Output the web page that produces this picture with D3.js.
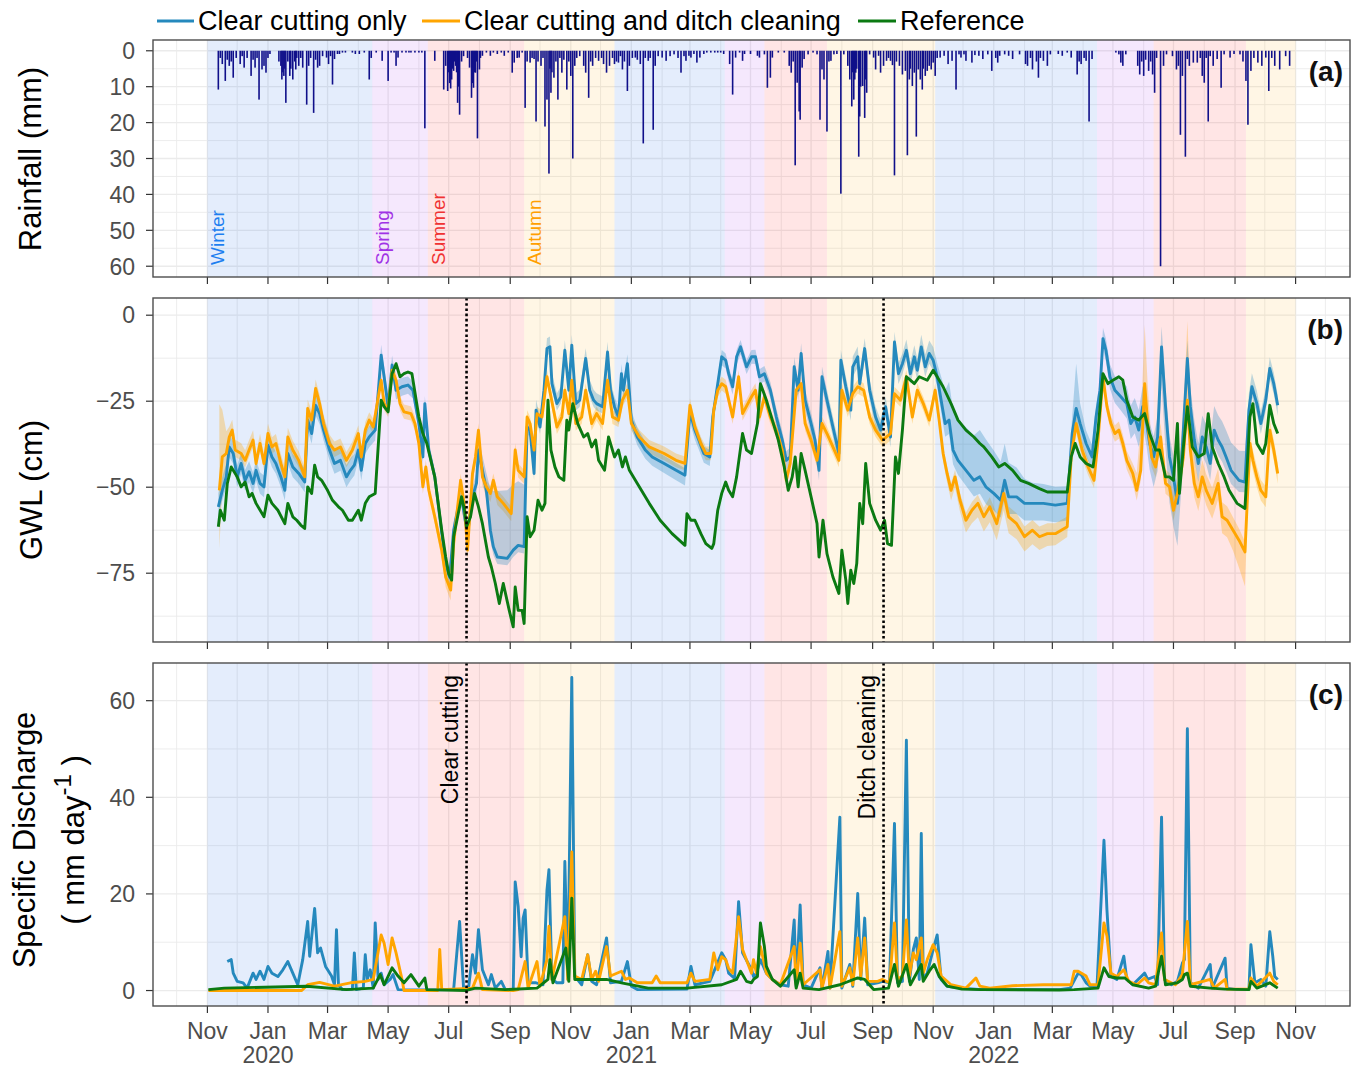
<!DOCTYPE html>
<html>
<head>
<meta charset="utf-8">
<script src="https://cdn.jsdelivr.net/npm/d3@7"></script>
<style>
  body { margin: 0; background: #ffffff; }
  svg { display: block; font-family: "Liberation Sans", Arial, Helvetica, sans-serif; }
</style>
</head>
<body>
<svg id="chart" width="1357" height="1067"></svg>
<script>
// ---------------------------------------------------------------------------
// Data: all series are [day offset from dayZero, value]
// ---------------------------------------------------------------------------
const dayZero = "2019-11-01";
const seriesNames = ["Clear cutting only", "Clear cutting and ditch cleaning", "Reference"];

const seasonNames  = ["Winter", "Spring", "Summer", "Autumn", "Winter", "Spring", "Summer", "Autumn", "Winter", "Spring", "Summer", "Autumn"];
const seasonStarts = ["2019-11-01", "2020-04-15", "2020-06-10", "2020-09-15", "2020-12-15", "2021-04-05",
                      "2021-05-15", "2021-07-17", "2021-11-03", "2022-04-15", "2022-06-11", "2022-09-12"];
const seasonEnd = "2022-11-01";

const eventNames = ["Clear cutting", "Ditch cleaning"];
const eventDates = ["2020-07-19", "2021-09-12"];

const rainTicks = [0, 10, 20, 30, 40, 50, 60];
const gwlTicks = [0, -25, -50, -75];
const dischargeTicks = [0, 20, 40, 60];

// Daily rainfall (mm)
const rainfall = [
  [11,10.8],[13,2],[15,3.7],[18,8.4],[20,2.5],[22,4.2],[24,3],[26,7.5],[29,2],[33,3.7],[35,1.5],[37,4.7],[40,2],
  [44,7],[46,2.5],[48,4.7],[50,2],[52,13.6],[55,5.2],[57,4.2],[59,6.1],[61,2],[63,0.9],[72,3],[74,4.2],[75,8],
  [76,6],[77,7],[78,5],[79,14.5],[81,3],[83,7],[84,5],[86,8],[88,3],[89,5.2],[90,2],[92,4.2],[94,2],[96,4.7],
  [100,15],[102,4.2],[104,2],[107,17.3],[109,2.5],[111,4.7],[113,4.2],[116,1.5],[120,1.9],[122,3.7],[124,1.5],
  [126,9.4],[128,2.3],[131,0.9],[133,0.9],[136,0.5],[139,0.5],[146,0.5],[149,0.9],[153,0.9],[158,0.5],[163,8],
  [165,2],[170,0.5],[176,2.8],[182,8.4],[185,0.5],[188,0.5],[190,4.2],[192,1.9],[196,0.5],[200,0.5],[203,0.5],
  [205,0.5],[209,0.5],[213,0.5],[216,0.5],[219,21.6],[229,2.8],[238,10.8],[240,4.2],[242,11.2],[243,6],[244,9],
  [245,10.5],[246,8],[247,5],[248,5.6],[249,3],[250,4.2],[251,6],[252,14.5],[253,10],[254,17.8],[256,3],[258,1.5],
  [262,2],[264,4.7],[266,13.1],[267,9],[268,10.3],[269,6],[270,6.1],[271,3],[272,24.4],[274,5.2],[275,2],[277,1.4],
  [281,0.5],[285,1.4],[288,0.5],[292,0.9],[296,0.5],[299,1.4],[303,0.5],[307,6.1],[309,3.3],[312,2],[314,1.9],
  [317,0.5],[320,15.9],[322,3],[325,3.3],[327,2],[329,2.3],[331,19.7],[333,3],[336,4.2],[338,2],[340,21.1],
  [342,13.6],[344,34.2],[345,5],[346,11.7],[347,6],[349,7.5],[351,3],[353,13.6],[355,2],[357,6.1],[359,2.5],
  [362,10.8],[364,3],[366,7],[368,30],[370,4.2],[372,2],[375,1.5],[379,4.2],[381,6.1],[384,13.1],[386,3],[388,4.2],
  [391,2],[394,2.8],[397,2],[399,3.7],[402,6.1],[405,4.2],[408,2],[410,3.7],[412,3],[414,3.3],[416,1.5],[418,5.2],
  [420,3],[423,11.2],[425,4.2],[428,2],[431,1.9],[433,2.5],[436,3.7],[439,25.8],[441,2],[444,2.8],[446,2],[449,22],
  [451,4.2],[454,1.5],[458,1.9],[462,2.8],[466,1.5],[470,1],[474,2],[477,6.1],[480,1.5],[482,2.8],[485,1.4],
  [487,1.9],[490,0.9],[493,3.3],[496,1.9],[500,0.9],[503,0.5],[507,0.5],[511,0.5],[514,0.5],[517,0.5],[520,0.9],
  [526,3.7],[529,12.2],[532,1.9],[536,0.5],[539,2.8],[541,0.9],[547,0.9],[554,1.4],[556,1.9],[561,1],[564,10.3],
  [567,7.5],[569,1.9],[575,0.5],[581,0.5],[586,4.2],[588,6.1],[590,3],[592,31.9],[594,8.9],[596,16.9],[597,19.2],
  [599,4.7],[601,2.3],[605,1],[610,0.5],[614,1],[617,19.2],[619,5.2],[621,8],[624,22.5],[626,3],[628,2.8],[631,1],
  [634,0.9],[638,39.8],[641,1],[645,4.2],[647,8],[649,15.5],[650,6],[651,13.6],[652,8],[653,6.1],[654,5],[656,29.5],
  [657,18.3],[658,10],[660,9.8],[662,18.7],[663,8],[664,11.7],[667,1],[671,1.9],[673,5.2],[676,1.4],[678,6.1],
  [681,4.2],[684,2.8],[686,2],[688,2.8],[690,4],[692,34.7],[694,3],[697,4.2],[700,6.6],[703,5.6],[705,29.1],[707,8],
  [708,5],[710,9.8],[712,6.1],[714,23.9],[716,5.2],[718,8],[720,10.8],[721,5],[723,7],[725,5.6],[727,4.2],[729,5.2],
  [731,3.3],[733,7],[735,2],[738,1.9],[742,1.4],[746,3.7],[750,2.8],[754,10.8],[757,1],[759,1.9],[762,1],[764,2.8],
  [770,3.3],[773,1.2],[777,1.4],[781,2.3],[786,1],[790,5.6],[794,2],[796,3.3],[798,1.4],[803,1],[807,1.4],[811,2.3],
  [818,1],[824,3.7],[826,4.2],[829,2],[831,5.2],[835,3],[837,7.5],[839,2],[842,2.8],[846,4.2],[849,1],[857,0.9],
  [861,1.4],[866,0.5],[870,1.9],[876,6.6],[878,3],[880,3.7],[883,2],[885,2.8],[888,19.7],[891,2.3],[915,0.5],
  [918,1],[920,3.3],[922,4.2],[925,1],[937,4.2],[939,6.6],[941,3],[943,7],[945,2.5],[948,5.6],[950,3],[952,6.6],
  [954,11.7],[956,2],[960,60],[963,4.2],[966,1],[972,1.5],[976,5.2],[978,4.2],[980,23.4],[982,7],[985,29.5],
  [987,2.3],[989,4.2],[993,3.3],[997,3.3],[1000,2],[1002,7],[1004,8.9],[1006,2],[1008,19.7],[1010,1.5],[1013,4.2],
  [1017,2.3],[1021,10.3],[1024,1],[1030,1.9],[1034,0.9],[1040,1],[1043,3],[1046,8.4],[1048,20.6],[1051,5.6],
  [1054,2],[1058,3.3],[1062,4.2],[1066,1.9],[1069,11.2],[1072,2],[1075,4.2],[1080,5.2],[1086,1.5],[1090,4.2]
];

// Groundwater level (cm), mean of wells
const gwlClear = [
  [11,-55.7],[15,-50.9],[19,-47],[22,-38.3],[26,-40.2],[30,-47],[34,-43.1],[38,-48],[42,-45.5],[46,-48.9],[49,-45.1],
  [53,-48.9],[57,-49.9],[61,-37.8],[65,-41.2],[69,-43.1],[74,-47],[78,-50.9],[81,-40.2],[86,-44.1],[92,-46],[98,-48.5],
  [101,-30.5],[105,-34.4],[109,-26.2],[113,-28.6],[117,-33.4],[123,-39.2],[128,-43.1],[134,-42.2],[140,-47],[144,-45.1],
  [148,-43.6],[152,-39.2],[155,-45.1],[159,-37.3],[163,-35.4],[169,-33.4],[175,-11.6],[178,-17.9],[182,-26.6],
  [186,-14.5],[190,-21.8],[196,-20.8],[202,-20.3],[207,-21.8],[213,-31.5],[217,-41.2],[219,-25.7],[223,-39.2],
  [229,-47],[234,-58.6],[240,-72.2],[244,-76.1],[248,-62.5],[252,-56.7],[256,-52.8],[259,-58.6],[262,-63.5],
  [267,-52.8],[271,-48.9],[273,-39.2],[277,-45.1],[281,-50.9],[285,-62.5],[288,-67.3],[292,-70.3],[302,-70.7],
  [308,-68.3],[313,-66.9],[319,-67.3],[322,-32.5],[325,-33.4],[329,-46],[331,-27.6],[335,-32.5],[339,-21.8],
  [342,-9.7],[345,-9.2],[347,-19.9],[352,-25.7],[356,-23.7],[360,-10.2],[364,-21.8],[367,-8.7],[371,-25.7],
  [375,-24.7],[381,-12.6],[385,-21.8],[389,-24.7],[392,-25.7],[398,-26.6],[403,-10.7],[406,-21.8],[410,-26.6],
  [414,-29.6],[417,-17],[419,-21.8],[423,-14.1],[427,-30.5],[433,-35.4],[441,-39.2],[448,-41.2],[460,-43.1],
  [472,-45.1],[481,-46.5],[486,-28.1],[491,-33.4],[495,-36.3],[500,-40.2],[506,-41.2],[509,-29.6],[514,-19.9],
  [518,-12.1],[522,-13.1],[525,-17],[529,-20.8],[533,-12.1],[537,-9.2],[543,-15],[548,-12.1],
  [552,-12.1],[556,-17.9],[561,-17],[567,-21.8],[573,-29.6],[579,-36.3],[583,-42.2],[587,-41.2],[591,-15],
  [595,-21.8],[598,-11.1],[602,-24.7],[608,-31.5],[612,-36.3],[616,-45.1],[619,-17.9],[624,-24.7],[630,-32.5],
  [636,-40.2],[638,-13.1],[643,-20.8],[648,-27.6],[650,-15],[655,-12.1],[657,-19.9],[662,-9.7],[667,-21.8],
  [673,-29.6],[678,-33.4],[683,-26.6],[688,-35.4],[692,-7.8],[696,-17],[700,-14.1],[704,-10.2],[708,-17],
  [712,-12.1],[715,-16],[719,-9.2],[723,-15],[727,-11.1],[731,-13.1],[735,-17.9],[739,-24.7],[743,-31.5],
  [747,-30.5],[751,-39.2],[756,-42.2],[764,-45.1],[772,-48],[778,-47],[784,-49.9],[792,-51.8],[799,-53.8],
  [803,-48],[807,-52.8],[815,-52.8],[823,-54.7],[831,-54.7],[842,-54.7],[854,-55.2],[866,-54.7],[871,-34.4],
  [875,-27.1],[879,-31.5],[885,-37.3],[891,-41.2],[895,-29.6],[899,-21.8],[902,-6.8],[905,-10.2],[909,-17.9],
  [914,-21.8],[920,-23.7],[926,-25.7],[930,-31.5],[934,-29.6],[938,-33.4],[942,-26.6],[946,-31.5],[949,-37.3],
  [953,-41.2],[957,-35.4],[961,-9.2],[965,-26.6],[969,-41.2],[973,-47],[977,-54.7],[981,-43.1],[987,-12.6],
  [990,-26.6],[994,-36.3],[998,-43.1],[1002,-35.4],[1006,-38.3],[1010,-43.1],[1014,-33.4],[1018,-36.3],
  [1022,-38.3],[1026,-41.2],[1031,-45.1],[1039,-48],[1045,-48.5],[1049,-27.6],[1052,-20.8],[1057,-25.7],
  [1061,-31.5],[1066,-24.7],[1070,-15.5],[1074,-19.9],[1078,-26.2]
];

const gwlDitch = [
  [12,-50.9],[15,-41.2],[19,-40.2],[22,-35.4],[25,-33.4],[28,-39.2],[34,-40.2],[38,-42.2],[42,-39.2],[46,-36.3],
  [49,-43.1],[53,-37.3],[57,-43.1],[61,-34.4],[65,-38.3],[69,-37.3],[74,-43.1],[78,-47],[81,-35.4],[86,-39.2],
  [92,-42.2],[98,-47],[101,-27.1],[105,-30.5],[109,-21.3],[113,-25.7],[117,-31.5],[123,-37.3],[128,-39.2],
  [134,-38.3],[140,-42.2],[146,-39.2],[152,-34.4],[155,-41.2],[159,-33.4],[163,-30.5],[167,-32.5],[175,-18.9],
  [178,-25.7],[182,-27.6],[186,-16],[190,-18.9],[194,-25.7],[198,-28.1],[205,-28.6],[209,-31.5],[213,-37.3],
  [217,-49.9],[220,-44.1],[223,-50.9],[229,-58.6],[236,-68.3],[240,-76.1],[245,-79.9],[248,-66.4],[252,-55.7],
  [255,-48],[259,-55.7],[262,-68.3],[267,-46],[270,-41.2],[273,-33.4],[277,-47],[281,-49.9],[285,-51.8],[288,-48],
  [292,-52.8],[298,-54.7],[306,-57.7],[310,-39.2],[313,-45.1],[319,-47],[322,-29.6],[325,-31.5],[329,-39.2],
  [332,-28.6],[337,-29.6],[342,-17.9],[346,-23.7],[352,-32.5],[357,-29.6],[360,-21.8],[364,-28.6],[367,-18.9],
  [371,-31.5],[377,-29.6],[381,-21.8],[387,-31.5],[392,-28.6],[398,-31.5],[403,-18.9],[408,-29.6],[414,-30.5],
  [418,-24.7],[423,-21.8],[427,-31.5],[435,-35.4],[445,-38.3],[460,-40.2],[472,-42.2],[481,-43.1],[486,-26.2],
  [491,-32.5],[497,-37.3],[502,-40.2],[507,-40.2],[510,-27.6],[514,-21.8],[518,-19.9],[522,-20.8],[529,-29.6],
  [535,-17.9],[539,-28.6],[548,-23.7],
  [552,-21.8],[556,-29.6],[561,-23.7],[567,-29.6],[573,-33.4],[579,-39.2],[583,-48],[587,-43.1],[593,-21.8],
  [598,-19.9],[602,-31.5],[608,-36.3],[614,-42.2],[619,-31.5],[624,-34.4],[630,-38.3],[636,-42.2],[639,-21.8],
  [645,-27.6],[650,-22.8],[655,-20.8],[661,-21.8],[667,-29.6],[673,-33.4],[680,-36.3],[688,-34.4],[692,-22.8],
  [698,-24.7],[704,-17.9],[710,-29.6],[715,-21.8],[721,-25.7],[727,-30.5],[733,-21.8],[737,-30.5],[741,-40.2],
  [745,-46],[749,-50.9],[753,-47],[758,-53.8],[764,-59.6],[770,-56.7],[776,-54.7],[782,-58.6],[788,-55.7],
  [795,-60.6],[802,-51.8],[807,-58.6],[815,-60.6],[823,-64.4],[831,-62.5],[838,-64.4],[846,-63.5],[854,-63.5],
  [866,-61.5],[870,-41.2],[875,-31.5],[881,-39.2],[887,-44.1],[893,-48],[897,-36.3],[902,-17.9],[906,-26.6],
  [910,-31.5],[914,-34.4],[918,-33.4],[922,-37.3],[926,-42.2],[932,-46],[936,-50.9],[940,-45.1],[944,-19.9],
  [947,-31.5],[951,-41.2],[955,-44.1],[960,-35.4],[965,-48.9],[969,-49.9],[973,-56.7],[977,-51.8],[983,-41.2],
  [987,-24.7],[990,-39.2],[994,-48.9],[998,-52.8],[1002,-47],[1006,-50.9],[1012,-54.7],[1018,-48.9],[1022,-58.6],
  [1027,-59.6],[1033,-62.5],[1039,-65.4],[1045,-68.8],[1050,-37.3],[1053,-42.2],[1057,-47],[1061,-50.9],
  [1066,-52.8],[1070,-33.4],[1074,-39.2],[1078,-46]
];

const gwlRef = [
  [11,-61.5],[13,-56.7],[17,-59.6],[20,-49],[24,-44.1],[30,-47],[34,-49.9],[38,-48.5],[42,-52.8],[45,-51.8],
  [49,-54.7],[57,-58.6],[61,-52.3],[65,-54.7],[71,-56.7],[78,-60.6],[81,-54.7],[86,-58.6],[90,-59.6],[94,-61],
  [98,-62],[101,-49.9],[105,-51.8],[108,-43.6],[111,-47],[115,-48],[121,-50.9],[126,-53.8],[132,-55.7],[136,-56.7],
  [142,-59.6],[146,-59.6],[152,-56.7],[155,-59.6],[159,-54.7],[163,-52.8],[169,-51.8],[175,-24.7],[178,-26.6],
  [182,-28.1],[186,-17],[190,-14.1],[194,-17.9],[198,-17],[202,-16.5],[206,-17],[213,-29.6],[217,-34.4],[221,-37.3],
  [229,-47],[236,-62.5],[240,-70.3],[243,-75.1],[246,-77],[248,-64.4],[252,-58.6],[256,-52.8],[259,-56.7],
  [261,-61.5],[265,-58.6],[269,-51.8],[273,-55.7],[277,-60.6],[283,-70.3],[286,-73.2],[290,-78],[294,-83.8],
  [298,-78],[304,-85.8],[308,-90.6],[310,-79],[313,-85.8],[317,-85.8],[319,-89.6],[322,-58.6],[325,-64.4],
  [329,-62.5],[333,-53.8],[337,-56.7],[340,-54.7],[343,-24.7],[346,-39.2],[350,-44.1],[354,-47],[359,-48],
  [362,-30.5],[364,-33.4],[368,-25.7],[373,-31.5],[379,-35.4],[383,-34.4],[387,-38.3],[391,-36.3],[394,-42.2],
  [400,-45.1],[404,-35.4],[410,-41.2],[414,-39.2],[418,-44.1],[421,-41.2],[425,-45.1],[433,-48.9],[445,-54.7],
  [456,-59.6],[468,-63.5],[481,-66.9],[483,-57.7],[487,-59.6],[491,-59.6],[497,-63.5],[502,-66.4],[508,-67.8],
  [510,-66.4],[514,-56.7],[518,-51.8],[522,-48.5],[525,-50.9],[529,-52.8],[533,-47],[539,-34.4],[543,-39.2],
  [548,-40.2],[550,-37.3],[554,-31.5],[557,-19.9],[563,-24.7],[569,-30.5],[575,-36.3],[581,-44.1],[585,-50.9],
  [589,-47],[592,-41.2],[595,-49.9],[598,-40.2],[602,-45.1],[608,-52.8],[614,-60.6],[616,-70.3],[620,-59.6],
  [624,-69.3],[630,-76.1],[636,-80.9],[639,-68.3],[643,-77],[645,-83.8],[648,-74.1],[651,-78],[654,-72.2],
  [657,-54.7],[660,-60.6],[663,-43.1],[667,-54.7],[673,-59.6],[678,-62.5],[682,-59.6],[685,-66.4],[689,-66.9],
  [693,-41.2],[696,-46],[700,-33.4],[704,-17.9],[708,-18.9],[712,-19.9],[717,-17.9],[725,-18.9],[731,-16],
  [735,-17.9],[741,-20.8],[749,-25.7],[756,-30.5],[764,-33.4],[772,-35.4],[778,-37.3],[782,-38.3],[790,-41.2],
  [797,-44.1],[803,-43.1],[811,-45.1],[819,-48],[827,-48.9],[838,-50.4],[846,-51.4],[866,-51.4],[870,-41.2],
  [874,-37.3],[879,-41.2],[885,-43.1],[892,-44.1],[897,-33.4],[902,-17],[907,-19.9],[912,-18.9],[918,-17.9],
  [922,-18.9],[926,-24.7],[932,-29.6],[938,-30.5],[944,-28.6],[949,-34.4],[955,-39.2],[959,-39.2],[965,-47],
  [969,-47],[973,-48],[977,-31.5],[979,-51.8],[983,-38.3],[987,-26.6],[992,-38.3],[998,-41.2],[1004,-40.2],
  [1008,-28.6],[1012,-38.3],[1018,-43.1],[1024,-47],[1029,-50.9],[1037,-54.7],[1045,-56.2],[1050,-29.6],
  [1053,-25.7],[1057,-37.3],[1063,-40.2],[1066,-37.3],[1070,-26.2],[1074,-31.5],[1078,-34.4]
];

// Spread between wells around each mean: [day, below (cm), above (cm)]
const spreadClear = [
  [11,3,4],[40,3,3],[100,3,4],[175,3,3],[230,2,2],[270,3,3],[281,3,5],[285,3,12],[290,2,19],[300,2,20],[319,2,18],
  [322,2,3],[400,2,3],[480,3,2],[548,2,2],[600,3,3],[700,3,3],[735,3,4],[745,4,11],[783,5,14],[830,5,6],[866,5,5],
  [871,4,5],[875,4,13],[880,4,4],[900,3,3],[940,5,6],[975,15,6],[982,6,5],[1030,4,8],[1045,3,9],[1050,3,4],[1078,3,3]
];
const spreadDitch = [
  [12,17,25],[16,6,10],[22,2,3],[230,2,2],[240,3,2],[250,3,2],[320,2,2],[548,2,2],[735,2,2],[750,3,2],[800,5,3],
  [866,3,3],[900,2,2],[935,3,3],[943,3,19],[951,3,4],[980,3,4],[987,4,23],[995,4,5],[1030,5,4],[1045,10,3],
  [1050,3,3],[1078,3,3]
];

// Specific discharge (mm day-1)
const qClear = [
  [20,6.0],[24,6.4],[26,3.6],[30,1.9],[36,1.6],[40,0.5],[46,3.6],[49,2.3],[53,4.0],[57,2.3],[61,5.0],[65,3.6],
  [71,2.9],[76,4.3],[81,6.0],[86,3.6],[91,1.2],[96,6.4],[101,14.3],[103,7.1],[108,17.0],[111,7.8],[114,8.8],
  [119,5.0],[125,3.0],[128,1.2],[130,12.6],[132,1.2],[136,0.2],[146,0.3],[148,7.8],[150,0.2],[157,0.5],[159,7.4],
  [161,2.3],[164,4.3],[167,0.5],[169,14.0],[172,2.3],[175,3.6],[178,1.2],[184,2.3],[187,3.3],[192,0.2],[213,0.1],
  [248,0.2],[254,14.3],[258,0.5],[263,0.5],[267,7.4],[270,3.6],[273,12.6],[277,4.3],[283,1.2],[286,3.3],[290,0.5],
  [296,1.9],[300,0.2],[308,0.2],[310,22.5],[313,17.4],[316,7.0],[318,15.0],[320,16.7],[323,1.6],[331,1.6],
  [338,1.2],[342,20.8],[344,25.0],[347,2.3],[352,1.6],[358,1.6],[360,26.7],[363,2.3],[367,64.8],[370,3.0],
  [377,1.2],[383,7.4],[387,1.9],[392,1.2],[402,10.9],[406,1.6],[417,1.9],[423,6.0],[427,0.9],[433,0.2],[483,0.3],
  [487,5.0],[491,1.2],[506,1.9],[518,7.8],[522,6.4],[525,3.6],[531,2.5],[535,18.4],[539,7.8],[548,4.3],
  [550,2.9],[553,3.6],[557,6.4],[563,3.6],[569,2.3],[577,1.2],[585,0.9],[591,14.6],[593,0.9],[597,17.7],[600,1.2],
  [608,0.5],[617,4.7],[619,0.5],[625,8.1],[627,0.5],[637,35.9],[639,0.5],[647,5.4],[650,0.9],[655,20.1],[658,2.3],
  [662,15.0],[665,1.2],[675,1.6],[680,1.9],[687,1.6],[692,34.6],[695,1.6],[700,1.9],[704,51.8],[707,1.9],
  [711,8.5],[714,10.9],[717,2.3],[719,32.5],[721,2.3],[725,3.6],[731,8.5],[735,11.5],[739,2.3],[745,0.9],
  [760,0.5],[780,0.2],[858,0.2],[869,0.5],[877,3.6],[880,3.3],[885,1.6],[889,0.9],[896,0.9],[903,31.1],
  [906,16.7],[910,2.9],[916,2.3],[923,7.1],[926,2.3],[932,1.2],[944,3.6],[947,2.3],[954,2.9],[957,1.2],
  [961,35.9],[964,2.3],[971,1.2],[977,1.9],[982,5.7],[984,6.4],[987,54.2],[990,1.6],[998,0.5],[1010,5.4],
  [1012,0.5],[1025,6.7],[1027,0.5],[1037,0.2],[1049,0.2],[1051,9.5],[1055,1.6],[1061,2.3],[1066,0.9],
  [1070,12.2],[1073,7.1],[1075,2.9],[1078,2.3]
];

const qDitch = [
  [1,0],[95,0],[101,1.2],[113,1.7],[128,0.9],[144,1.6],[159,1.9],[167,2.3],[175,11.5],[178,9.8],[182,5.4],
  [186,10.9],[190,7.8],[196,2.3],[198,0],[232,0],[234,8.5],[236,0.2],[267,0.5],[273,3.6],[277,0.2],[308,0],
  [313,0.2],[320,6.0],[323,0.5],[332,6.0],[335,0.9],[342,6.4],[344,13.3],[347,2.3],[360,15.3],[363,2.3],
  [367,28.7],[370,3.0],[377,2.3],[383,7.4],[387,2.3],[391,4.0],[394,1.9],[402,9.1],[406,3.0],[417,4.0],
  [421,2.3],[425,2.6],[433,1.6],[448,1.6],[452,3.0],[456,1.6],[483,1.6],[487,3.6],[491,1.9],[506,2.3],
  [510,7.8],[514,4.3],[518,7.0],[522,6.4],[525,4.6],[529,3.6],[535,15.3],[539,8.5],[548,3.6],
  [550,6.4],[553,3.6],[557,9.1],[563,3.6],[569,2.3],[577,1.2],[591,9.1],[593,1.2],[597,9.8],[600,1.2],[617,4.3],
  [619,0.5],[625,5.4],[627,0.5],[637,12.2],[639,0.9],[647,4.7],[650,1.2],[655,10.9],[658,3.0],[662,10.9],
  [665,1.9],[675,1.9],[680,2.3],[687,1.6],[692,14.0],[695,2.3],[700,3.0],[704,14.6],[707,3.0],[711,7.8],
  [714,6.4],[719,10.9],[721,3.6],[725,6.4],[731,9.5],[735,7.8],[739,3.0],[749,1.2],[764,0.5],[774,2.6],
  [778,0.9],[788,0.5],[811,1.0],[842,1.2],[870,1.2],[873,4.0],[877,4.0],[885,3.0],[889,1.2],[897,1.2],
  [903,14.0],[906,11.3],[910,3.6],[916,2.9],[923,4.3],[928,1.9],[936,1.2],[944,2.6],[948,1.6],[955,1.2],
  [961,11.9],[964,2.3],[975,1.2],[982,3.3],[987,14.3],[990,1.2],[1010,2.3],[1014,0.5],[1025,2.3],[1027,0.3],
  [1049,0.3],[1051,2.6],[1057,0.9],[1070,3.6],[1074,1.9],[1078,1.2]
];

const qRef = [
  [1,0.2],[17,0.5],[100,0.9],[140,0.2],[167,0.5],[174,3.3],[178,1.2],[186,4.7],[192,3.0],[198,1.6],[205,3.3],
  [213,0.9],[219,2.6],[221,0.2],[260,0],[270,0.5],[300,0.2],[332,0.5],[343,2.3],[345,6.4],[348,1.6],[361,8.8],
  [364,1.9],[367,19.1],[370,2.3],[383,2.3],[402,2.3],[417,1.6],[444,0.5],[483,0.5],[518,1.2],[533,2.3],[537,4.0],
  [543,1.9],[548,1.6],[550,2.3],[554,2.9],[557,14.0],[561,9.1],[563,5.0],[569,2.3],[577,0.9],[591,4.3],[593,0.5],
  [597,3.6],[600,0.5],[616,0.2],[637,1.2],[655,2.6],[662,2.3],[671,0.2],[686,0.5],[692,5.4],[696,0.9],[704,5.4],
  [708,1.2],[719,5.4],[721,1.9],[727,4.0],[732,5.4],[737,2.9],[745,0.9],[760,0.3],[780,0.2],[858,0.1],[873,0.2],
  [897,0.5],[903,4.7],[908,2.9],[916,2.6],[924,2.6],[932,1.2],[948,0.5],[955,0.9],[961,7.1],[965,1.2],[977,1.6],
  [982,2.3],[984,3.3],[987,3.6],[990,0.9],[1010,0.5],[1025,0.3],[1049,0.2],[1051,1.9],[1057,0.5],[1070,1.6],
  [1078,0.5]
];

// ---------------------------------------------------------------------------
// Styling
// ---------------------------------------------------------------------------
const lineColors = ["#2589bd", "#ffa500", "#0b7a12"];
const seasonFill = { Winter: "#1e6ee6", Spring: "#a020f0", Summer: "#ff0000", Autumn: "#ffa500" };
const seasonFillOpacity = { Winter: 0.12, Spring: 0.1, Summer: 0.1, Autumn: 0.1 };
const seasonText = { Winter: "#1e7ff0", Spring: "#a032e6", Summer: "#f03232", Autumn: "#ffa000" };
const rainColor = "#10108a";
const gridColor = "#ebebeb";
const axisText = "#4d4d4d";

// ---------------------------------------------------------------------------
// Scales
// ---------------------------------------------------------------------------
const svg = d3.select("#chart");
const t0 = new Date(dayZero + "T00:00:00Z");
const toDate = d => new Date(t0.getTime() + d * 864e5);
const parse = s => new Date(s + "T00:00:00Z");

const X0 = 153, X1 = 1350;
const x = d3.scaleUtc().domain([toDate(-54.8), toDate(1150.8)]).range([X0, X1]);

const panels = {
  a: { top: 40,  bottom: 277,  y: d3.scaleLinear().domain([-3, 63]).range([40, 277]),
       ticks: rainTicks, minor: [5, 15, 25, 35, 45, 55] },
  b: { top: 298, bottom: 642,  y: d3.scaleLinear().domain([-95, 5]).range([642, 298]),
       ticks: gwlTicks, minor: [-12.5, -37.5, -62.5, -87.5] },
  c: { top: 663, bottom: 1006, y: d3.scaleLinear().domain([-3.2, 67.8]).range([1006, 663]),
       ticks: dischargeTicks, minor: [10, 30, 50] }
};

const majorMonths = d3.utcMonth.every(2).range(x.domain()[0], x.domain()[1]);
const minorMonths = d3.utcMonth.range(x.domain()[0], x.domain()[1]).filter(d => d.getUTCMonth() % 2 === 1);
const fmtNum = v => (v < 0 ? "\u2212" + Math.abs(v) : String(v));

// ---------------------------------------------------------------------------
// Panel frames, grid, seasons, axes
// ---------------------------------------------------------------------------
const defs = svg.append("defs");
Object.entries(panels).forEach(([k, p]) => {
  defs.append("clipPath").attr("id", "clip-" + k)
    .append("rect").attr("x", X0).attr("y", p.top).attr("width", X1 - X0).attr("height", p.bottom - p.top);

  const g = svg.append("g").attr("class", "panel-" + k);
  p.g = g;
  g.append("rect").attr("x", X0).attr("y", p.top).attr("width", X1 - X0).attr("height", p.bottom - p.top)
    .attr("fill", "#ffffff");

  const grid = g.append("g").attr("clip-path", `url(#clip-${k})`);
  grid.selectAll(".vmin").data(minorMonths).join("line")
    .attr("x1", d => x(d)).attr("x2", d => x(d)).attr("y1", p.top).attr("y2", p.bottom)
    .attr("stroke", gridColor).attr("stroke-width", 0.9);
  grid.selectAll(".vmaj").data(majorMonths).join("line")
    .attr("x1", d => x(d)).attr("x2", d => x(d)).attr("y1", p.top).attr("y2", p.bottom)
    .attr("stroke", gridColor).attr("stroke-width", 1.3);
  grid.selectAll(".hmin").data(p.minor).join("line")
    .attr("x1", X0).attr("x2", X1).attr("y1", d => p.y(d)).attr("y2", d => p.y(d))
    .attr("stroke", gridColor).attr("stroke-width", 0.9);
  grid.selectAll(".hmaj").data(p.ticks).join("line")
    .attr("x1", X0).attr("x2", X1).attr("y1", d => p.y(d)).attr("y2", d => p.y(d))
    .attr("stroke", gridColor).attr("stroke-width", 1.3);

  // season shading
  const seasons = seasonNames.map((name, i) => ({
    name, start: parse(seasonStarts[i]), end: parse(i + 1 < seasonStarts.length ? seasonStarts[i + 1] : seasonEnd)
  }));
  p.seasons = seasons;
  g.append("g").selectAll("rect").data(seasons).join("rect")
    .attr("x", d => x(d.start)).attr("width", d => x(d.end) - x(d.start))
    .attr("y", p.top).attr("height", p.bottom - p.top)
    .attr("fill", d => seasonFill[d.name]).attr("fill-opacity", d => seasonFillOpacity[d.name]);

  p.data = g.append("g").attr("clip-path", `url(#clip-${k})`);

  // y axis ticks and labels
  const ya = svg.append("g");
  ya.selectAll("line").data(p.ticks).join("line")
    .attr("x1", X0 - 7).attr("x2", X0).attr("y1", d => p.y(d)).attr("y2", d => p.y(d))
    .attr("stroke", "#333").attr("stroke-width", 1.2);
  ya.selectAll("text").data(p.ticks).join("text")
    .attr("x", X0 - 18).attr("y", d => p.y(d)).attr("dy", "0.36em")
    .attr("text-anchor", "end").attr("font-size", 23).attr("fill", axisText)
    .text(d => fmtNum(d));

  // x axis ticks (labels only on the bottom panel)
  const xa = svg.append("g");
  xa.selectAll("line").data(majorMonths).join("line")
    .attr("x1", d => x(d)).attr("x2", d => x(d)).attr("y1", p.bottom).attr("y2", p.bottom + 7)
    .attr("stroke", "#333").attr("stroke-width", 1.2);
});

// ---------------------------------------------------------------------------
// (a) Rainfall bars hanging from the top
// ---------------------------------------------------------------------------
{
  const p = panels.a;
  p.data.selectAll("rect").data(rainfall).join("rect")
    .attr("x", d => x(toDate(d[0])) - 0.8).attr("width", 1.6)
    .attr("y", p.y(0)).attr("height", d => p.y(d[1]) - p.y(0))
    .attr("fill", rainColor);

  svg.append("g").selectAll("text").data(p.seasons.slice(0, 4)).join("text")
    .attr("transform", d => `translate(${x(d.start) + 17},265) rotate(-90)`)
    .attr("font-size", 19).attr("fill", d => seasonText[d.name])
    .text(d => d.name);
}

// ---------------------------------------------------------------------------
// (b) Groundwater level with between-well spread
// ---------------------------------------------------------------------------
function withBand(points, spread) {
  const days = spread.map(s => s[0]);
  const below = d3.scaleLinear().domain(days).range(spread.map(s => s[1])).clamp(true);
  const above = d3.scaleLinear().domain(days).range(spread.map(s => s[2])).clamp(true);
  return points.map(([d, v]) => ({ d, v, lo: v - below(d), hi: v + above(d) }));
}
{
  const p = panels.b;
  const bands = [withBand(gwlDitch, spreadDitch), withBand(gwlClear, spreadClear)];
  const bandColors = [lineColors[1], lineColors[0]];
  const area = d3.area().x(d => x(toDate(d.d))).y0(d => p.y(d.lo)).y1(d => p.y(d.hi));
  bands.forEach((b, i) => {
    p.data.append("path").datum(b).attr("d", area)
      .attr("fill", bandColors[i]).attr("fill-opacity", 0.3);
  });
  const line = d3.line().x(d => x(toDate(d[0]))).y(d => p.y(d[1]));
  [gwlClear, gwlDitch, gwlRef].forEach((s, i) => {
    p.data.append("path").datum(s).attr("d", line)
      .attr("fill", "none").attr("stroke", lineColors[i]).attr("stroke-width", 2.9)
      .attr("stroke-linejoin", "round");
  });
}

// ---------------------------------------------------------------------------
// (c) Specific discharge
// ---------------------------------------------------------------------------
{
  const p = panels.c;
  const line = d3.line().x(d => x(toDate(d[0]))).y(d => p.y(d[1]));
  [qClear, qDitch, qRef].forEach((s, i) => {
    p.data.append("path").datum(s).attr("d", line)
      .attr("fill", "none").attr("stroke", lineColors[i]).attr("stroke-width", 2.9)
      .attr("stroke-linejoin", "round");
  });
}

// ---------------------------------------------------------------------------
// Management events (dotted lines in b and c, labels in c)
// ---------------------------------------------------------------------------
["b", "c"].forEach(k => {
  const p = panels[k];
  svg.append("g").selectAll("line").data(eventDates).join("line")
    .attr("x1", d => x(parse(d))).attr("x2", d => x(parse(d)))
    .attr("y1", p.top).attr("y2", p.bottom)
    .attr("stroke", "#000").attr("stroke-width", 2.6).attr("stroke-dasharray", "2.6,2.6");
});
svg.append("g").selectAll("text").data(eventNames).join("text")
  .attr("transform", (d, i) => `translate(${x(parse(eventDates[i])) - 9},675) rotate(-90)`)
  .attr("text-anchor", "end").attr("font-size", 23).attr("fill", "#000")
  .text(d => d);

// ---------------------------------------------------------------------------
// Panel borders and letters
// ---------------------------------------------------------------------------
Object.entries(panels).forEach(([k, p]) => {
  svg.append("rect").attr("x", X0).attr("y", p.top).attr("width", X1 - X0).attr("height", p.bottom - p.top)
    .attr("fill", "none").attr("stroke", "#4d4d4d").attr("stroke-width", 1.4);
  svg.append("text").attr("x", 1343).attr("y", p.top + 41)
    .attr("text-anchor", "end").attr("font-size", 28).attr("font-weight", "bold").attr("fill", "#111")
    .text(`(${k})`);
});

// ---------------------------------------------------------------------------
// Bottom date axis labels
// ---------------------------------------------------------------------------
{
  const p = panels.c;
  const labs = majorMonths.filter(d => d >= parse("2019-11-01") && d <= parse("2022-11-01"));
  const g = svg.append("g").attr("font-size", 23).attr("fill", axisText).attr("text-anchor", "middle");
  g.selectAll(".m").data(labs).join("text")
    .attr("x", d => x(d)).attr("y", p.bottom + 33).text(d => d3.utcFormat("%b")(d));
  g.selectAll(".yr").data(labs.filter(d => d.getUTCMonth() === 0)).join("text")
    .attr("x", d => x(d)).attr("y", p.bottom + 57).text(d => d3.utcFormat("%Y")(d));
}

// ---------------------------------------------------------------------------
// Axis titles
// ---------------------------------------------------------------------------
svg.append("text").attr("transform", "translate(41,159) rotate(-90)")
  .attr("text-anchor", "middle").attr("font-size", 31).attr("fill", "#000").text("Rainfall (mm)");
svg.append("text").attr("transform", "translate(42,490) rotate(-90)")
  .attr("text-anchor", "middle").attr("font-size", 31).attr("fill", "#000").text("GWL (cm)");
svg.append("text").attr("transform", "translate(35,840) rotate(-90)")
  .attr("text-anchor", "middle").attr("font-size", 31).attr("fill", "#000").text("Specific Discharge");
{
  const t = svg.append("text").attr("transform", "translate(84,840) rotate(-90)")
    .attr("text-anchor", "middle").attr("font-size", 31).attr("fill", "#000");
  t.append("tspan").text("( mm day");
  t.append("tspan").attr("dy", -13).attr("font-size", 24).text("-1");
  t.append("tspan").attr("dy", 13).text(" )");
}

// ---------------------------------------------------------------------------
// Legend
// ---------------------------------------------------------------------------
{
  const items = [
    { x: 157, w: 37 },
    { x: 422, w: 38 },
    { x: 858, w: 38 }
  ];
  const lg = svg.append("g");
  seriesNames.forEach((name, i) => {
    lg.append("line").attr("x1", items[i].x).attr("x2", items[i].x + items[i].w).attr("y1", 21).attr("y2", 21)
      .attr("stroke", lineColors[i]).attr("stroke-width", 3.2);
    lg.append("text").attr("x", items[i].x + items[i].w + 4).attr("y", 30)
      .attr("font-size", 27).attr("fill", "#000").text(name);
  });
}
</script>
</body>
</html>
